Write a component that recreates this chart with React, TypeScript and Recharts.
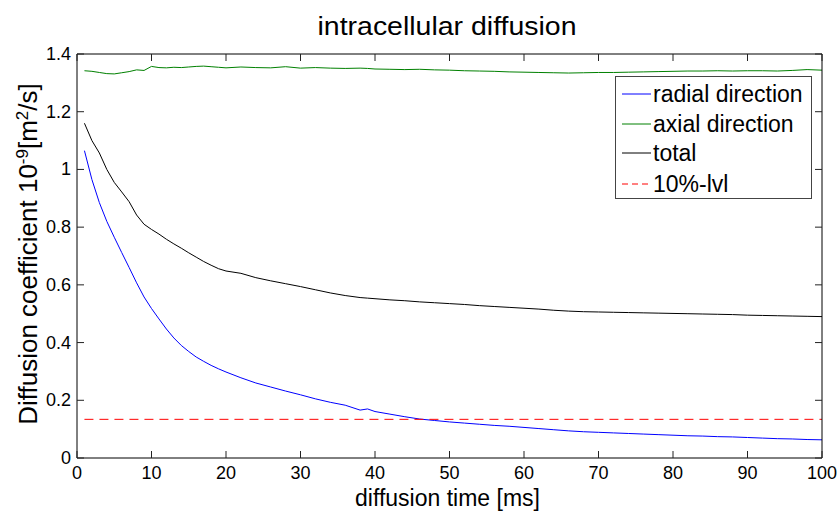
import React from 'react';
import { LineChart, Line, XAxis, YAxis, Legend, ReferenceLine } from 'recharts';

const times = [
  1, 2, 3, 4, 5, 6, 7, 8, 9, 10, 11, 12, 13, 14, 15, 16, 17, 18, 19, 20,
  22, 24, 26, 28, 30, 32, 34, 36, 38, 39,
  40, 42, 44, 46, 48, 50, 52, 54, 56, 58, 60, 62, 64, 66, 68, 70, 72, 74, 76, 78,
  80, 82, 84, 86, 88, 90, 92, 94, 96, 98, 100,
];

const radial = [
  1.065, 0.965, 0.885, 0.82, 0.765, 0.712, 0.66, 0.607, 0.558, 0.518, 0.482, 0.447, 0.416, 0.39, 0.369, 0.35, 0.335, 0.321, 0.309, 0.298,
  0.278, 0.26, 0.246, 0.232, 0.219, 0.205, 0.193, 0.183, 0.166, 0.17,
  0.161, 0.152, 0.143, 0.135, 0.13, 0.125, 0.121, 0.117, 0.113, 0.11, 0.106, 0.102, 0.098, 0.094, 0.091, 0.089, 0.087, 0.085, 0.083, 0.081,
  0.079, 0.077, 0.076, 0.074, 0.073, 0.071, 0.069, 0.067, 0.066, 0.064, 0.063,
];

const axial = [
  1.342, 1.34, 1.336, 1.332, 1.331, 1.335, 1.339, 1.345, 1.343, 1.357, 1.353, 1.352, 1.354, 1.353, 1.355, 1.357, 1.358, 1.356, 1.354, 1.352,
  1.355, 1.353, 1.352, 1.356, 1.351, 1.353, 1.351, 1.35, 1.351, 1.35,
  1.348, 1.347, 1.346, 1.347, 1.345, 1.344, 1.342, 1.341, 1.34, 1.338, 1.337, 1.336, 1.335, 1.334, 1.335, 1.336, 1.336, 1.337, 1.338, 1.339,
  1.34, 1.341, 1.341, 1.342, 1.341, 1.342, 1.342, 1.341, 1.343, 1.346, 1.344,
];

const total = [
  1.16, 1.1, 1.057, 1.0, 0.955, 0.922, 0.888, 0.842, 0.81, 0.792, 0.776, 0.758, 0.742, 0.727, 0.711, 0.696, 0.681, 0.668, 0.656, 0.648,
  0.64, 0.625, 0.614, 0.604, 0.594, 0.583, 0.572, 0.563, 0.556, 0.554,
  0.552, 0.548, 0.545, 0.541, 0.538, 0.535, 0.532, 0.528, 0.525, 0.522, 0.519, 0.516, 0.512, 0.509, 0.507, 0.506, 0.505, 0.504, 0.503, 0.502,
  0.501, 0.5, 0.499, 0.498, 0.497, 0.495, 0.494, 0.493, 0.492, 0.491, 0.49,
];

const levelValue = 0.134;
const levelStart = 1;
const levelEnd = 100;

const xTicks = [0, 10, 20, 30, 40, 50, 60, 70, 80, 90, 100];
const yTicks = [0, 0.2, 0.4, 0.6, 0.8, 1, 1.2, 1.4];

const seriesNames = ['radial direction', 'axial direction', 'total', '10%-lvl'];
const seriesColors = ['#0000ff', '#008000', '#000000', '#ff0000'];

const titleText = 'intracellular diffusion';
const xLabelText = 'diffusion time [ms]';

const data = times.map((t, i) => ({ t, radial: radial[i], axial: axial[i], total: total[i] }));

const FONT = '"Liberation Sans", Arial, Helvetica, sans-serif';
const W = 840;
const H = 511;
const PLOT = { left: 77, right: 822, top: 54, bottom: 458 };
const TICK_LEN = 7;
const TICK_COLOR = '#222';

const XTickBottom = (props: any) => {
  const { x, payload } = props;
  return (
    <g>
      <path d={`M${x},${PLOT.bottom}V${PLOT.bottom - TICK_LEN}`} stroke={TICK_COLOR} strokeWidth={1} fill="none" />
      <text x={x} y={PLOT.bottom + 21} textAnchor="middle" fontSize={18} fontFamily={FONT} fill="#000">
        {String(payload.value)}
      </text>
    </g>
  );
};

const XTickTop = (props: any) => {
  const { x } = props;
  return (
    <path d={`M${x},${PLOT.top}V${PLOT.top + TICK_LEN}`} stroke={TICK_COLOR} strokeWidth={1} fill="none" />
  );
};

const YTickLeft = (props: any) => {
  const { y, payload } = props;
  return (
    <g>
      <path d={`M${PLOT.left},${y}H${PLOT.left + TICK_LEN}`} stroke={TICK_COLOR} strokeWidth={1} fill="none" />
      <text x={PLOT.left - 6} y={y + 6} textAnchor="end" fontSize={18} fontFamily={FONT} fill="#000">
        {String(payload.value)}
      </text>
    </g>
  );
};

const YTickRight = (props: any) => {
  const { y } = props;
  return (
    <path d={`M${PLOT.right},${y}H${PLOT.right - TICK_LEN}`} stroke={TICK_COLOR} strokeWidth={1} fill="none" />
  );
};

const rowCenters = [17, 47, 76, 107];

const renderLegend = () => (
  <div
    style={{
      boxSizing: 'border-box',
      width: 197,
      height: 123,
      border: '1px solid #444',
      background: '#fff',
      position: 'relative',
      fontFamily: FONT,
      fontSize: 23,
      color: '#000',
    }}
  >
    {seriesNames.map((n, i) => (
      <div
        key={n}
        style={{
          position: 'absolute',
          left: 0,
          top: rowCenters[i] - 15,
          height: 30,
          display: 'flex',
          alignItems: 'center',
          whiteSpace: 'nowrap',
        }}
      >
        <svg width={37} height={4} style={{ display: 'block' }}>
          <line
            x1={6}
            x2={35}
            y1={2}
            y2={2}
            stroke={seriesColors[i]}
            strokeWidth={1}
            strokeDasharray={i === 3 ? '6 4' : undefined}
          />
        </svg>
        <span style={{ lineHeight: '30px' }}>{n}</span>
      </div>
    ))}
  </div>
);

export default function App() {
  return (
    <div style={{ position: 'absolute', left: 0, top: 0, width: W, height: H, background: '#fff' }}>
      <LineChart
        width={W}
        height={H}
        data={data}
        margin={{ top: PLOT.top - 1, right: W - PLOT.right - 1, bottom: H - PLOT.bottom - 1, left: PLOT.left - 1 }}
      >
        <XAxis
          xAxisId="b"
          dataKey="t"
          type="number"
          domain={[0, 100]}
          ticks={xTicks}
          interval={0}
          height={1}
          tickSize={0}
          tickMargin={0}
          axisLine={{ stroke: '#000' }}
          tickLine={false}
          tick={XTickBottom}
          allowDataOverflow
        />
        <XAxis
          xAxisId="top"
          orientation="top"
          dataKey="t"
          type="number"
          domain={[0, 100]}
          ticks={xTicks}
          interval={0}
          height={1}
          tickSize={0}
          tickMargin={0}
          axisLine={{ stroke: '#000' }}
          tickLine={false}
          tick={XTickTop}
          allowDataOverflow
        />
        <YAxis
          yAxisId="l"
          type="number"
          domain={[0, 1.4]}
          ticks={yTicks}
          interval={0}
          width={1}
          tickSize={0}
          tickMargin={0}
          axisLine={{ stroke: '#000' }}
          tickLine={false}
          tick={YTickLeft}
          allowDataOverflow
        />
        <YAxis
          yAxisId="r"
          orientation="right"
          type="number"
          domain={[0, 1.4]}
          ticks={yTicks}
          interval={0}
          width={1}
          tickSize={0}
          tickMargin={0}
          axisLine={{ stroke: '#000' }}
          tickLine={false}
          tick={YTickRight}
          allowDataOverflow
        />
        <Line xAxisId="b" yAxisId="l" dataKey="radial" name={seriesNames[0]} stroke={seriesColors[0]} strokeWidth={1} dot={false} type="linear" isAnimationActive={false} />
        <Line xAxisId="b" yAxisId="l" dataKey="axial" name={seriesNames[1]} stroke={seriesColors[1]} strokeWidth={1} dot={false} type="linear" isAnimationActive={false} />
        <Line xAxisId="b" yAxisId="l" dataKey="total" name={seriesNames[2]} stroke={seriesColors[2]} strokeWidth={1} dot={false} type="linear" isAnimationActive={false} />
        <ReferenceLine
          xAxisId="b"
          yAxisId="l"
          segment={[{ x: levelStart, y: levelValue }, { x: levelEnd, y: levelValue }]}
          stroke={seriesColors[3]}
          strokeWidth={1}
          strokeDasharray="9 6"
        />
        <Legend
          layout="vertical"
          align="center"
          verticalAlign="middle"
          content={renderLegend}
          wrapperStyle={{ left: 615, top: 76, width: 197, height: 123, right: 'auto', bottom: 'auto' }}
        />
      </LineChart>
      <svg
        width={W}
        height={H}
        style={{ position: 'absolute', left: 0, top: 0, pointerEvents: 'none' }}
      >
        <text
          x={447}
          y={35}
          textAnchor="middle"
          fontSize={25}
          fontFamily={FONT}
          textLength={259}
          lengthAdjust="spacingAndGlyphs"
          fill="#000"
        >
          {titleText}
        </text>
        <text x={447.5} y={506} textAnchor="middle" fontSize={23} fontFamily={FONT} fill="#000">
          {xLabelText}
        </text>
        <text transform="translate(37,254) rotate(-90)" textAnchor="middle" fontSize={26} fontFamily={FONT} fill="#000">
          Diffusion coefficient 10
          <tspan dy={-9} fontSize={17}>-9</tspan>
          <tspan dy={9}>[m</tspan>
          <tspan dy={-9} fontSize={17}>2</tspan>
          <tspan dy={9}>/s]</tspan>
        </text>
      </svg>
    </div>
  );
}
